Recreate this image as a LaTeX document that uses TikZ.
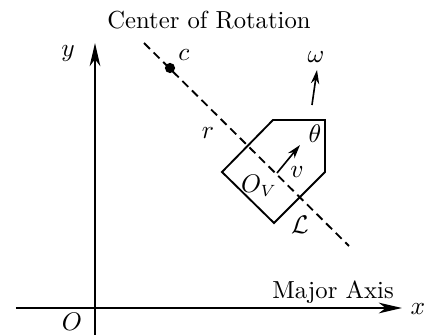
\documentclass[tikz,border=0pt]{standalone}
\usetikzlibrary{arrows.meta}
\begin{document}
\begin{tikzpicture}[x=0.43pt,y=-0.43pt,
  every node/.style={font=\fontsize{10.6}{12}\selectfont},
  axis/.style={line width=0.6pt,-{Stealth[length=10pt,width=4.6pt,inset=3pt]}},
  vec/.style={line width=0.7pt,-{Stealth[length=6pt,width=3.6pt,inset=2pt]}},
  major/.style={line width=0.8pt,dash pattern=on 3.6pt off 2.2pt},
  body/.style={line width=0.8pt,line join=miter},
  lbl/.style={inner sep=1pt}]
\useasboundingbox (0,0) rectangle (436,335);
% axes
\coordinate (ybot) at (95,335);
\coordinate (ytop) at (95,43);
\coordinate (xl) at (16,308);
\coordinate (xr) at (402,308);
\draw[axis] (ybot) -- (ytop);
\draw[axis] (xl) -- (xr);
% major axis
\coordinate (ma1) at (144,43);
\coordinate (ma2) at (349,246);
\draw[major] (ma1) -- (ma2);
\node[circle,fill,inner sep=0pt,minimum size=4.4pt] (c) at (170,68) {};
% vehicle body
\coordinate (p1) at (273,120);
\coordinate (p2) at (325,120);
\coordinate (p3) at (325,172);
\coordinate (p4) at (274,223);
\coordinate (p5) at (222,172);
\draw[body] (p1) -- (p2) -- (p3) -- (p4) -- (p5) -- cycle;
% velocity
\coordinate (vs) at (277,173);
\coordinate (ve) at (300,145);
\draw[vec] (vs) -- (ve);
% omega
\coordinate (ws) at (312,105);
\coordinate (we) at (317,70);
\draw[vec] (ws) -- (we);
% labels
\node[lbl] (lcen) at (209,20) {Center of Rotation};
\node[lbl] (ly) at (68,53) {$y$};
\node[lbl] (lx) at (418,309) {$x$};
\node[lbl] (lO) at (72,322) {$O$};
\node[lbl] (lc) at (184,55) {$c$};
\node[lbl] (lw) at (316,57) {$\omega$};
\node[lbl] (lr) at (208,133) {$r$};
\node[lbl] (lth) at (315,134) {$\theta$};
\node[lbl] (lv) at (297,172) {$v$};
\node[lbl] (lOv) at (259,186) {$O_V$};
\node[lbl] (lL) at (300,225) {$\mathcal{L}$};
\node[lbl] (lma) at (333,292) {Major Axis};
\end{tikzpicture}
\end{document}
